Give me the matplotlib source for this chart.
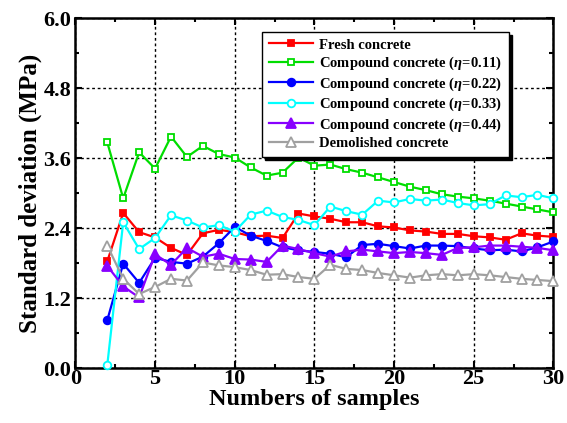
import numpy as np
import matplotlib
matplotlib.use("Agg")
import matplotlib.pyplot as plt
from matplotlib.ticker import MultipleLocator

plt.rcParams["font.family"] = ["Liberation Serif", "DejaVu Serif"]
plt.rcParams["font.weight"] = "bold"
plt.rcParams["mathtext.fontset"] = "custom"
plt.rcParams["mathtext.it"] = "Liberation Serif:italic:bold"

# ---------------------------------------------------------------
# data
# ---------------------------------------------------------------
n_samples = list(range(2, 31))

fresh = [1.83, 2.66, 2.33, 2.24, 2.06, 1.94, 2.31, 2.37, 2.33, 2.26,
         2.27, 2.23, 2.65, 2.60, 2.56, 2.50, 2.50, 2.43, 2.41, 2.36,
         2.34, 2.30, 2.30, 2.26, 2.24, 2.20, 2.31, 2.27, 2.25]
eta_011 = [3.87, 2.91, 3.70, 3.42, 3.97, 3.62, 3.81, 3.67, 3.61, 3.44,
           3.30, 3.35, 3.61, 3.47, 3.49, 3.41, 3.35, 3.27, 3.19, 3.11,
           3.05, 2.98, 2.94, 2.91, 2.87, 2.82, 2.77, 2.72, 2.67]
eta_022 = [0.82, 1.79, 1.46, 1.89, 1.82, 1.79, 1.91, 2.14, 2.42, 2.27,
           2.18, 2.07, 2.02, 1.99, 1.96, 1.90, 2.11, 2.13, 2.09, 2.05,
           2.10, 2.10, 2.09, 2.05, 2.02, 2.03, 2.00, 2.07, 2.17]
eta_033 = [0.05, 2.50, 2.04, 2.23, 2.62, 2.53, 2.41, 2.45, 2.34, 2.63,
           2.70, 2.59, 2.54, 2.45, 2.77, 2.69, 2.63, 2.87, 2.84, 2.90,
           2.87, 2.89, 2.83, 2.79, 2.81, 2.96, 2.93, 2.97, 2.91]
eta_044 = [1.75, 1.40, 1.21, 1.95, 1.77, 2.06, 1.91, 1.96, 1.87, 1.86,
           1.82, 2.10, 2.04, 1.97, 1.91, 2.00, 2.03, 2.00, 1.97, 1.99,
           1.97, 1.94, 2.06, 2.07, 2.10, 2.10, 2.08, 2.06, 2.02]
demolished = [2.10, 1.53, 1.27, 1.39, 1.53, 1.50, 1.81, 1.76, 1.73, 1.68,
              1.60, 1.61, 1.56, 1.53, 1.77, 1.70, 1.68, 1.63, 1.59, 1.55,
              1.59, 1.61, 1.59, 1.61, 1.59, 1.56, 1.53, 1.51, 1.49]

labels = ["Fresh concrete",
          r"Compound concrete ($\eta$=0.11)",
          r"Compound concrete ($\eta$=0.22)",
          r"Compound concrete ($\eta$=0.33)",
          r"Compound concrete ($\eta$=0.44)",
          "Demolished concrete"]

fig = plt.figure(figsize=(5.67, 4.23), dpi=100)
ax = fig.add_axes([0.133, 0.130, 0.843, 0.827])

series = [
    (fresh, "#ff0000", "s", "#ff0000", 5),
    (eta_011, "#00dd00", "s", "white", 5),
    (eta_022, "#0000ff", "o", "#0000ff", 5.5),
    (eta_033, "#00ffff", "o", "white", 5.5),
    (eta_044, "#8800ff", "^", "#8800ff", 6.5),
    (demolished, "#a0a0a0", "^", "white", 6.5),
]
for (vals, col, mk, fc, ms), lab in zip(series, labels):
    ax.plot(n_samples, vals, color=col, marker=mk, markerfacecolor=fc,
            markeredgecolor=col, markeredgewidth=1.3, markersize=ms,
            lw=1.6, label=lab, clip_on=False, zorder=3)

ax.set_xlim(0, 30)
ax.set_ylim(0, 6.0)
ax.xaxis.set_major_locator(MultipleLocator(5))
ax.xaxis.set_minor_locator(MultipleLocator(2.5))
ax.yaxis.set_major_locator(MultipleLocator(1.2))
ax.yaxis.set_minor_locator(MultipleLocator(0.6))
ax.set_yticklabels([f"{v:.1f}" for v in ax.get_yticks()])
ax.tick_params(which="both", direction="in", top=True, right=True,
               labelsize=16, width=1.5)
ax.tick_params(which="major", length=5)
ax.tick_params(which="minor", length=3)
ax.tick_params(axis="x", pad=1)
ax.tick_params(axis="y", pad=3)
for s in ax.spines.values():
    s.set_linewidth(1.8)

ax.grid(True, which="major", color="black", linestyle=(0, (2, 2)), lw=1.0)

ax.set_xlabel("Numbers of samples", fontsize=17.5, fontweight="bold",
              labelpad=0)
ax.set_ylabel("Standard deviation (MPa)", fontsize=18, fontweight="bold",
              labelpad=1)

leg = ax.legend(loc="upper right", bbox_to_anchor=(0.922, 0.982),
                fontsize=10.5, frameon=True, fancybox=False,
                shadow={"color": "black", "alpha": 1.0}, framealpha=1,
                edgecolor="black", handlelength=3.0, labelspacing=0.22,
                borderpad=0.45, handletextpad=0.45)
leg.get_frame().set_linewidth(1.0)
leg.set_zorder(5)

fig.savefig("out.png", dpi=100)
